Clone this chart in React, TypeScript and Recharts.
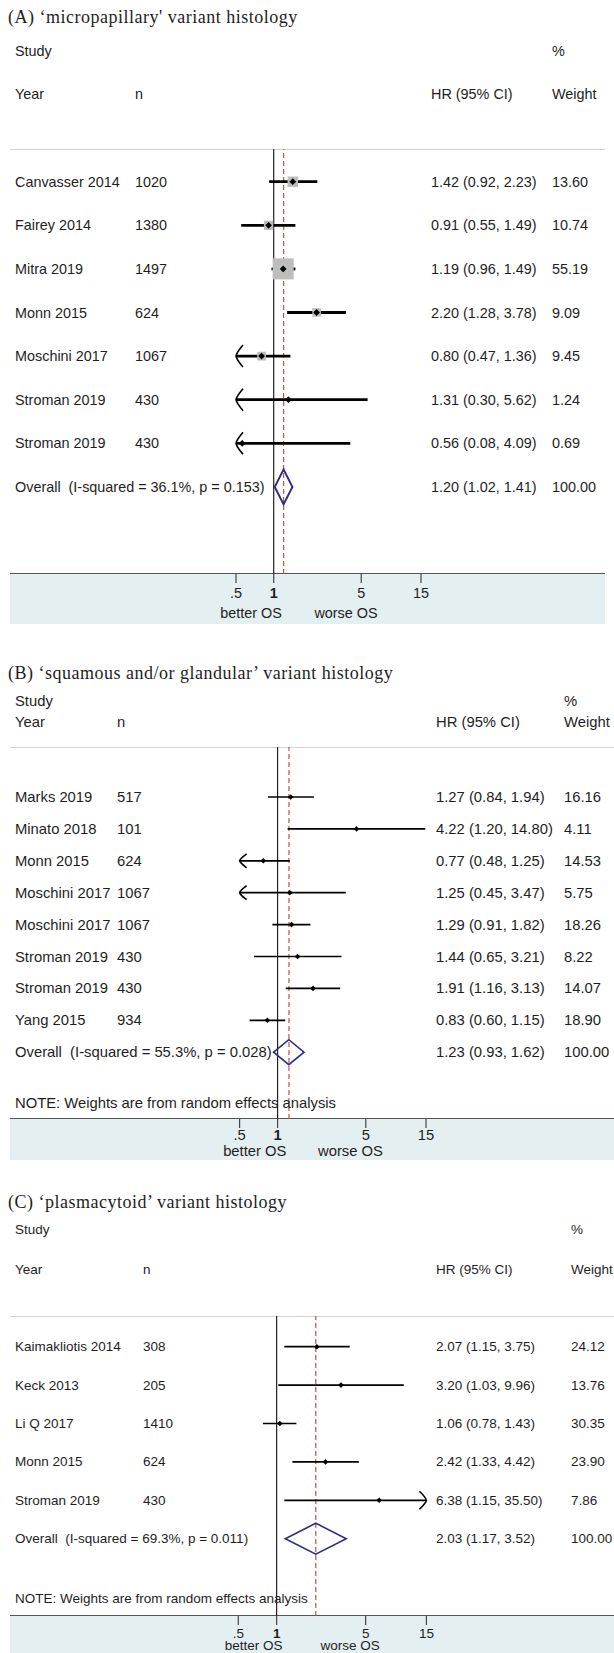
import React from "react";
import { ComposedChart, Scatter, XAxis, YAxis, ReferenceLine } from "recharts";

// (A) micropapillary
const studiesA = ["Canvasser 2014", "Fairey 2014", "Mitra 2019", "Monn 2015", "Moschini 2017", "Stroman 2019", "Stroman 2019"];
const sizesA = [1020, 1380, 1497, 624, 1067, 430, 430];
const hrA = [1.42, 0.91, 1.19, 2.2, 0.8, 1.31, 0.56];
const lowerA = [0.92, 0.55, 0.96, 1.28, 0.47, 0.3, 0.08];
const upperA = [2.23, 1.49, 1.49, 3.78, 1.36, 5.62, 4.09];
const weightA = [13.6, 10.74, 55.19, 9.09, 9.45, 1.24, 0.69];
const pooledA = [1.2, 1.02, 1.41];
const hetA = "Overall  (I-squared = 36.1%, p = 0.153)";

// (B) squamous and/or glandular
const studiesB = ["Marks 2019", "Minato 2018", "Monn 2015", "Moschini 2017", "Moschini 2017", "Stroman 2019", "Stroman 2019", "Yang 2015"];
const sizesB = [517, 101, 624, 1067, 1067, 430, 430, 934];
const hrB = [1.27, 4.22, 0.77, 1.25, 1.29, 1.44, 1.91, 0.83];
const lowerB = [0.84, 1.2, 0.48, 0.45, 0.91, 0.65, 1.16, 0.6];
const upperB = [1.94, 14.8, 1.25, 3.47, 1.82, 3.21, 3.13, 1.15];
const weightB = [16.16, 4.11, 14.53, 5.75, 18.26, 8.22, 14.07, 18.9];
const pooledB = [1.23, 0.93, 1.62];
const hetB = "Overall  (I-squared = 55.3%, p = 0.028)";

// (C) plasmacytoid
const studiesC = ["Kaimakliotis 2014", "Keck 2013", "Li Q 2017", "Monn 2015", "Stroman 2019"];
const sizesC = [308, 205, 1410, 624, 430];
const hrC = [2.07, 3.2, 1.06, 2.42, 6.38];
const lowerC = [1.15, 1.03, 0.78, 1.33, 1.15];
const upperC = [3.75, 9.96, 1.43, 4.42, 35.5];
const weightC = [24.12, 13.76, 30.35, 23.9, 7.86];
const pooledC = [2.03, 1.17, 3.52];
const hetC = "Overall  (I-squared = 69.3%, p = 0.011)";

const xDomain = [0.5, 15];
const xTicks = [0.5, 1, 5, 15];
const xTickText = [".5", "1", "5", "15"];
const sideTicks = [0.66, 3.78];
const sideText = ["better OS", "worse OS"];
const noteText = "NOTE: Weights are from random effects analysis";

const SANS = '"Liberation Sans", Arial, sans-serif';
const SERIF = '"Liberation Serif", "Times New Roman", serif';
const INK = "#1e1e1e";

type Layout = {
  fs: number;
  titleY: number; studyY: number; yearY: number; sepY: number;
  firstRowY: number; rowStep: number; axisY: number; boxBottom: number; noteY?: number;
  xLeft: number; xRight: number; lineRight: number;
  colN: number; colHR: number; colW: number;
  tickLen: number; tickH: number; tickDy: number; sideDy: number;
  ciWidth: number; dot: number; diamondH: number; diamondW: number; arrowH: number; boxes: boolean;
};

const layoutA: Layout = {
  fs: 14.4,
  titleY: 18, studyY: 52, yearY: 95, sepY: 149, firstRowY: 181.7, rowStep: 43.6, axisY: 574, boxBottom: 624,
  xLeft: 236, xRight: 421, lineRight: 605, colN: 135, colHR: 431, colW: 552,
  tickLen: 9, tickH: 28, tickDy: 19, sideDy: 39,
  ciWidth: 2.8, dot: 3.4, diamondH: 35, diamondW: 2, arrowH: 22, boxes: true,
};

const layoutB: Layout = {
  fs: 14.8,
  titleY: 674, studyY: 702, yearY: 723, sepY: 747, firstRowY: 797, rowStep: 31.9, axisY: 1119, boxBottom: 1160,
  noteY: 1103, xLeft: 239.6, xRight: 426, lineRight: 614, colN: 117, colHR: 436, colW: 564,
  tickLen: 9, tickH: 24, tickDy: 16, sideDy: 32,
  ciWidth: 1.7, dot: 2.8, diamondH: 25, diamondW: 1.6, arrowH: 14, boxes: false,
};

const layoutC: Layout = {
  fs: 13.5,
  titleY: 1203, studyY: 1230, yearY: 1270, sepY: 1316, firstRowY: 1346.7, rowStep: 38.4, axisY: 1616, boxBottom: 1653,
  noteY: 1598, xLeft: 238.3, xRight: 426.4, lineRight: 614, colN: 143, colHR: 436, colW: 571,
  tickLen: 9, tickH: 22, tickDy: 17, sideDy: 29,
  ciWidth: 1.7, dot: 2.8, diamondH: 31, diamondW: 1.6, arrowH: 18, boxes: false,
};

const fmt = (v: number) => v.toFixed(2);

function Label({ x, y, children, serif, size }: any) {
  return (
    <div
      style={{
        position: "absolute", left: x, top: y, transform: "translateY(-50%)", whiteSpace: "pre",
        fontFamily: serif ? SERIF : SANS, fontSize: size, color: INK, lineHeight: 1.2,
        letterSpacing: serif ? 0.5 : 0,
      }}
    >
      {children}
    </div>
  );
}

function Forest(props: any) {
  const { title, studies, sizes, hr, lower, upper, weight, pooled, het, note, L } = props;
  const lay: Layout = L;
  const k = studies.length;
  const pooledRow = k + 1;
  const d0 = 1 - (lay.firstRowY - lay.sepY) / lay.rowStep;
  const d1 = 1 + (lay.axisY - lay.firstRowY) / lay.rowStep;
  const noteRow = note ? 1 + ((lay.noteY as number) - lay.firstRowY) / lay.rowStep : null;

  const rows = studies.map((s: string, i: number) => ({ row: i + 1, hr: hr[i], w: weight[i] }));
  const rowTicks = rows.map((r: any) => r.row).concat([pooledRow]);
  const leftTicks = noteRow ? rowTicks.concat([noteRow]) : rowTicks;

  const txt = { fontFamily: SANS, fontSize: lay.fs, fill: INK, dominantBaseline: "central" as const };

  const leftTick = (p: any) => {
    const v = p.payload.value;
    if (v === noteRow) return <text x={15} y={p.y} {...txt}>{noteText}</text>;
    if (v === pooledRow) return <text x={15} y={p.y} {...txt} style={{ whiteSpace: "pre" }}>{het}</text>;
    const i = v - 1;
    return (
      <g>
        <text x={15} y={p.y} {...txt}>{studies[i]}</text>
        <text x={lay.colN} y={p.y} {...txt}>{sizes[i]}</text>
      </g>
    );
  };

  const rightTick = (p: any) => {
    const v = p.payload.value;
    const vals = v === pooledRow ? [pooled[0], pooled[1], pooled[2], 100] : [hr[v - 1], lower[v - 1], upper[v - 1], weight[v - 1]];
    return (
      <g>
        <text x={lay.colHR} y={p.y} {...txt}>{`${fmt(vals[0])} (${fmt(vals[1])}, ${fmt(vals[2])})`}</text>
        <text x={lay.colW} y={p.y} {...txt}>{fmt(vals[3])}</text>
      </g>
    );
  };

  const axisTick = (p: any) => {
    const i = xTicks.indexOf(p.payload.value);
    return (
      <text x={p.x} y={p.y - lay.tickLen + lay.tickDy} textAnchor="middle" {...txt} fontWeight={xTicks[i] === 1 ? "bold" : "normal"}>
        {xTickText[i]}
      </text>
    );
  };

  const sideTick = (p: any) => {
    const i = sideTicks.indexOf(p.payload.value);
    return (
      <text x={p.x} y={p.y - lay.tickH + lay.sideDy} textAnchor="middle" {...txt}>
        {sideText[i]}
      </text>
    );
  };

  // confidence interval, clipped at the axis limits with an open arrowhead
  const ciShape = (clipLeft: boolean, clipRight: boolean) => (p: any) => {
    const h = lay.arrowH / 2;
    return (
      <g>
        <line x1={p.x1} y1={p.y1} x2={p.x2} y2={p.y2} stroke="#000" strokeWidth={lay.ciWidth} />
        {clipLeft && (
          <path d={`M${p.x1 + 7},${p.y1 - h} Q${p.x1 + 0.5},${p.y1 - h * 0.3} ${p.x1},${p.y1} Q${p.x1 + 0.5},${p.y1 + h * 0.3} ${p.x1 + 7},${p.y1 + h}`} fill="none" stroke="#000" strokeWidth={1.6} />
        )}
        {clipRight && (
          <path d={`M${p.x2 - 7},${p.y2 - h} Q${p.x2 - 0.5},${p.y2 - h * 0.3} ${p.x2},${p.y2} Q${p.x2 - 0.5},${p.y2 + h * 0.3} ${p.x2 - 7},${p.y2 + h}`} fill="none" stroke="#000" strokeWidth={1.6} />
        )}
      </g>
    );
  };

  const diamondShape = (p: any) => {
    const mid = (p.x1 + p.x2) / 2;
    const h = lay.diamondH / 2;
    return (
      <polygon
        points={`${p.x1},${p.y1} ${mid},${p.y1 - h} ${p.x2},${p.y1} ${mid},${p.y1 + h}`}
        fill="none" stroke="#2e2e80" strokeWidth={lay.diamondW}
      />
    );
  };

  const boxShape = (p: any) => {
    const side = 2.83 * Math.sqrt(p.payload.w);
    return <rect x={p.cx - side / 2} y={p.cy - side / 2} width={side} height={side} fill="#bdbdbd" />;
  };

  const dotShape = (p: any) => {
    const d = lay.dot;
    return <path d={`M${p.cx - d},${p.cy} L${p.cx},${p.cy - d} L${p.cx + d},${p.cy} L${p.cx},${p.cy + d} Z`} fill="#000" />;
  };

  const chartH = lay.boxBottom - lay.sepY;

  return (
    <>
      <Label x={8} y={lay.titleY} serif size={18}>{title}</Label>
      <Label x={15} y={lay.studyY} size={lay.fs}>Study</Label>
      <Label x={lay.colW} y={lay.studyY} size={lay.fs}>%</Label>
      <Label x={15} y={lay.yearY} size={lay.fs}>Year</Label>
      <Label x={lay.colN} y={lay.yearY} size={lay.fs}>n</Label>
      <Label x={lay.colHR} y={lay.yearY} size={lay.fs}>HR (95% CI)</Label>
      <Label x={lay.colW} y={lay.yearY} size={lay.fs}>Weight</Label>
      <div style={{ position: "absolute", left: 10, top: lay.sepY, width: lay.lineRight - 10, borderTop: "1px solid #d2d2d2" }} />
      <div
        style={{
          position: "absolute", left: 10, top: lay.axisY - 0.75, width: lay.lineRight - 10,
          height: lay.boxBottom - lay.axisY, background: "#e4eff2", borderTop: "1.5px solid #555",
        }}
      />
      <div style={{ position: "absolute", left: 0, top: lay.sepY }}>
        <ComposedChart width={614} height={chartH} margin={{ top: 0, right: 0, bottom: 0, left: 0 }} style={{ overflow: "visible" }}>
          <XAxis
            xAxisId="hr" type="number" dataKey="hr" scale="log" domain={xDomain} allowDataOverflow
            ticks={xTicks} interval={0} axisLine={false} tickLine={{ stroke: "#444", strokeWidth: 1.2 }}
            tickSize={lay.tickLen} tickMargin={0} height={lay.tickH} tick={axisTick}
          />
          <XAxis
            xAxisId="side" type="number" dataKey="hr" scale="log" domain={xDomain} allowDataOverflow
            ticks={sideTicks} interval={0} axisLine={false} tickLine={false} tickSize={0} tickMargin={0}
            height={lay.boxBottom - lay.axisY - lay.tickH} tick={sideTick}
          />
          <YAxis
            yAxisId="row" type="number" dataKey="row" domain={[d0, d1]} reversed allowDataOverflow
            width={lay.xLeft} ticks={leftTicks} interval={0} axisLine={false} tickLine={false} tick={leftTick}
          />
          <YAxis
            yAxisId="rowR" orientation="right" type="number" dataKey="row" domain={[d0, d1]} reversed allowDataOverflow
            width={614 - lay.xRight} ticks={rowTicks} interval={0} axisLine={false} tickLine={false} tick={rightTick}
          />
          {lay.boxes && (
            <Scatter xAxisId="hr" yAxisId="row" data={rows} dataKey="hr" isAnimationActive={false} shape={boxShape} />
          )}
          <ReferenceLine xAxisId="hr" yAxisId="row" x={1} stroke="#222" strokeWidth={1.2} ifOverflow="visible" />
          <ReferenceLine xAxisId="hr" yAxisId="row" x={pooled[0]} stroke="#c2524f" strokeWidth={1.2} strokeDasharray="5 3" ifOverflow="visible" />
          {rows.map((r: any, i: number) => {
            const lo = Math.max(lower[i], xDomain[0]);
            const hi = Math.min(upper[i], xDomain[1]);
            return (
              <ReferenceLine
                key={`ci-${i}`} xAxisId="hr" yAxisId="row" ifOverflow="visible"
                segment={[{ x: lo, y: r.row }, { x: hi, y: r.row }]}
                shape={ciShape(lower[i] < xDomain[0], upper[i] > xDomain[1])}
              />
            );
          })}
          <ReferenceLine
            xAxisId="hr" yAxisId="row" ifOverflow="visible"
            segment={[{ x: pooled[1], y: pooledRow }, { x: pooled[2], y: pooledRow }]}
            shape={diamondShape}
          />
          <Scatter xAxisId="hr" yAxisId="row" data={rows} dataKey="hr" isAnimationActive={false} shape={dotShape} />
        </ComposedChart>
      </div>
    </>
  );
}

export default function App() {
  return (
    <div style={{ position: "relative", width: 614, height: 1653, overflow: "hidden", background: "#fff" }}>
      <style>{"body{margin:0}"}</style>
      <Forest
        title="(A) ‘micropapillary' variant histology"
        studies={studiesA} sizes={sizesA} hr={hrA} lower={lowerA} upper={upperA} weight={weightA}
        pooled={pooledA} het={hetA} note={false} L={layoutA}
      />
      <Forest
        title="(B) ‘squamous and/or glandular’ variant histology"
        studies={studiesB} sizes={sizesB} hr={hrB} lower={lowerB} upper={upperB} weight={weightB}
        pooled={pooledB} het={hetB} note={true} L={layoutB}
      />
      <Forest
        title="(C) ‘plasmacytoid’ variant histology"
        studies={studiesC} sizes={sizesC} hr={hrC} lower={lowerC} upper={upperC} weight={weightC}
        pooled={pooledC} het={hetC} note={true} L={layoutC}
      />
    </div>
  );
}
